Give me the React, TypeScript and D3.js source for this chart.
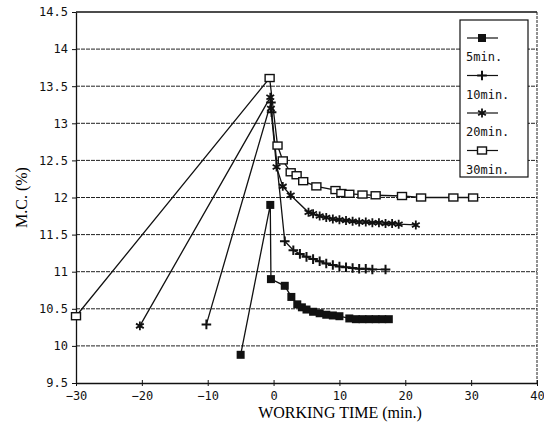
import * as d3 from "d3";
import { useEffect, useRef } from "react";

// values
const fiveMinTime = [-5, -0.5, -0.4, 1.7, 2.7, 3.6, 4.3, 5, 6, 7, 8, 9, 10, 11.5, 12.5, 13.5, 14.5, 15.5, 16.5, 17.5];
const fiveMinMC = [9.88, 11.9, 10.9, 10.81, 10.66, 10.56, 10.52, 10.49, 10.46, 10.44, 10.42, 10.41, 10.4, 10.37, 10.36, 10.36, 10.36, 10.36, 10.36, 10.36];

const tenMinTime = [-10.2, -0.4, -0.3, 1.7, 3, 4, 5, 6, 7, 8, 9, 10, 11, 12, 13, 14, 15, 17];
const tenMinMC = [10.29, 13.28, 13.15, 11.41, 11.29, 11.24, 11.2, 11.17, 11.14, 11.11, 11.09, 11.07, 11.06, 11.05, 11.04, 11.04, 11.03, 11.03];

const twentyMinTime = [-20.3, -0.5, -0.4, 0.45, 1.4, 2.6, 5.3, 6, 7, 8, 9, 10, 11, 12, 13, 14, 15, 16, 17, 18, 19, 21.6];
const twentyMinMC = [10.27, 13.35, 13.2, 12.41, 12.15, 12.03, 11.8, 11.78, 11.75, 11.73, 11.71, 11.7, 11.69, 11.68, 11.67, 11.67, 11.66, 11.66, 11.65, 11.65, 11.64, 11.63];

const thirtyMinTime = [-30, -0.6, 0.6, 1.4, 2.6, 3.5, 4.5, 6.5, 9.4, 10.3, 11.5, 13.5, 15.5, 19.5, 22.4, 27.3, 30.3];
const thirtyMinMC = [10.4, 13.61, 12.7, 12.5, 12.34, 12.3, 12.22, 12.15, 12.1, 12.06, 12.05, 12.04, 12.03, 12.02, 12.0, 12.0, 12.0];

const seriesNames = ["5min.", "10min.", "20min.", "30min."];
const xTicks = [-30, -20, -10, 0, 10, 20, 30, 40];
const yTicks = [9.5, 10, 10.5, 11, 11.5, 12, 12.5, 13, 13.5, 14, 14.5];

const W = 544;
const H = 428;

const App = () => {
  const svgRef = useRef(null);

  useEffect(() => {
    const svg = d3.select(svgRef.current);
    svg.selectAll("*").remove();

    const x = d3.scaleLinear().domain([-30, 40]).range([76, 537]);
    const y = d3.scaleLinear().domain([9.5, 14.5]).range([383, 12]);

    svg.append("rect").attr("width", W).attr("height", H).attr("fill", "#fff");

    // gridlines (dotted, scanned look)
    svg
      .append("g")
      .selectAll("line")
      .data(yTicks.filter((d) => d > 9.5 && d < 14.5))
      .enter()
      .append("line")
      .attr("x1", x(-30))
      .attr("x2", x(40))
      .attr("y1", (d) => y(d))
      .attr("y2", (d) => y(d))
      .attr("stroke", "#222")
      .attr("stroke-width", 1)
      .attr("stroke-dasharray", "4,1");

    // top border and right border
    svg
      .append("line")
      .attr("x1", x(-30))
      .attr("x2", x(40))
      .attr("y1", y(14.5))
      .attr("y2", y(14.5))
      .attr("stroke", "#111")
      .attr("stroke-width", 1.3);
    svg
      .append("line")
      .attr("x1", x(40))
      .attr("x2", x(40))
      .attr("y1", y(14.5))
      .attr("y2", y(9.5))
      .attr("stroke", "#222")
      .attr("stroke-dasharray", "3,1");

    // axes
    const xAxis = svg
      .append("g")
      .attr("transform", `translate(0, ${y(9.5)})`)
      .call(d3.axisBottom(x).tickValues(xTicks).tickSizeInner(3).tickSizeOuter(0).tickPadding(4));
    xAxis.selectAll("line").clone().attr("y2", -3);

    const yAxis = svg
      .append("g")
      .attr("transform", `translate(${x(-30)}, 0)`)
      .call(
        d3
          .axisLeft(y)
          .tickValues(yTicks)
          .tickSizeInner(4)
          .tickSizeOuter(0)
          .tickPadding(4)
          .tickFormat((d) => String(d))
      );

    [xAxis, yAxis].forEach((g) => {
      g.select(".domain").attr("stroke", "#111").attr("stroke-width", 1.3);
      g.selectAll("line").attr("stroke", "#111");
      g.selectAll("text")
        .attr("fill", "#111")
        .style("font-family", "'DejaVu Sans Mono', monospace")
        .style("font-size", "12px");
    });
    xAxis.selectAll("text").attr("dy", "0.85em");

    // axis titles
    svg
      .append("text")
      .attr("x", 340)
      .attr("y", 418)
      .attr("text-anchor", "middle")
      .style("font-family", "'Liberation Serif', serif")
      .style("font-size", "16px")
      .text("WORKING TIME (min.)");
    svg
      .append("text")
      .attr("transform", `translate(27, ${y(12)}) rotate(-90)`)
      .attr("text-anchor", "middle")
      .style("font-family", "'Liberation Serif', serif")
      .style("font-size", "16px")
      .text("M.C. (%)");

    const series = [
      { name: seriesNames[0], t: fiveMinTime, v: fiveMinMC, mark: "fsquare" },
      { name: seriesNames[1], t: tenMinTime, v: tenMinMC, mark: "plus" },
      { name: seriesNames[2], t: twentyMinTime, v: twentyMinMC, mark: "star" },
      { name: seriesNames[3], t: thirtyMinTime, v: thirtyMinMC, mark: "osquare" },
    ];

    const line = d3
      .line()
      .x((d) => x(d[0]))
      .y((d) => y(d[1]));

    // draw a marker at (cx, cy)
    const drawMark = (g, kind, cx, cy) => {
      if (kind === "fsquare") {
        g.append("rect")
          .attr("x", cx - 4)
          .attr("y", cy - 4)
          .attr("width", 8)
          .attr("height", 8)
          .attr("fill", "#111");
      } else if (kind === "osquare") {
        g.append("rect")
          .attr("x", cx - 4.5)
          .attr("y", cy - 3.5)
          .attr("width", 9)
          .attr("height", 7)
          .attr("fill", "#fff")
          .attr("stroke", "#111")
          .attr("stroke-width", 1.4);
      } else {
        const sym = kind === "plus" ? d3.symbolPlus : d3.symbolAsterisk;
        g.append("path")
          .attr("transform", `translate(${cx}, ${cy})`)
          .attr("d", d3.symbol().type(sym).size(kind === "plus" ? 32 : 56)())
          .attr("fill", "none")
          .attr("stroke", "#111")
          .attr("stroke-width", kind === "plus" ? 2 : 1.8);
      }
    };

    series.forEach((s) => {
      const pts = s.t.map((t, i) => [t, s.v[i]]);
      const g = svg.append("g");
      g.append("path")
        .attr("d", line(pts))
        .attr("fill", "none")
        .attr("stroke", "#111")
        .attr("stroke-width", 1.3);
      pts.forEach((p) => drawMark(g, s.mark, x(p[0]), y(p[1])));
    });

    // legend
    const legend = svg.append("g");
    legend
      .append("rect")
      .attr("x", 460)
      .attr("y", 20)
      .attr("width", 68)
      .attr("height", 157)
      .attr("fill", "#fff")
      .attr("stroke", "#111")
      .attr("stroke-width", 1.2);
    series.forEach((s, i) => {
      const ly = 38 + i * 37.5;
      legend
        .append("line")
        .attr("x1", 467)
        .attr("x2", 498)
        .attr("y1", ly)
        .attr("y2", ly)
        .attr("stroke", "#111")
        .attr("stroke-width", 1.2);
      drawMark(legend, s.mark, 482, ly);
      legend
        .append("text")
        .attr("x", 466)
        .attr("y", ly + 23)
        .style("font-family", "'DejaVu Sans Mono', monospace")
        .style("font-size", "12px")
        .attr("fill", "#111")
        .text(s.name);
    });
  }, []);

  return (
    <svg
      ref={svgRef}
      width={W}
      height={H}
      style={{ position: "absolute", left: 0, top: 0 }}
    ></svg>
  );
};

export default App;
